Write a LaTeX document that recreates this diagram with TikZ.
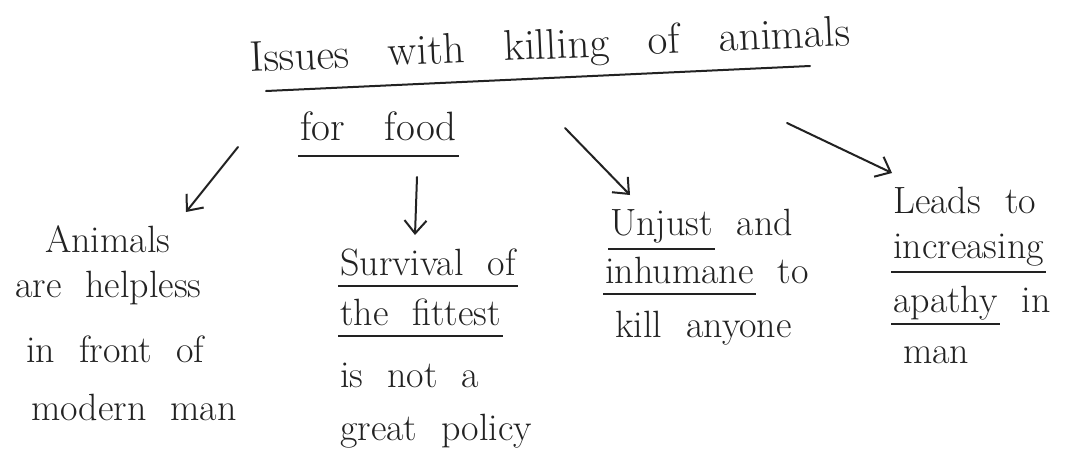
\documentclass[tikz,border=0pt]{standalone}
\usetikzlibrary{arrows.meta}
\definecolor{ink}{HTML}{222222}
\newsavebox\ulbox
\newcommand\hul[2][12pt]{\leavevmode\sbox\ulbox{#2}\rlap{\hspace*{-2pt}\rule[-#1]{\dimexpr\wd\ulbox+4pt\relax}{1.9pt}}\usebox\ulbox}
\newcommand\bodyfont{\fontsize{38}{45}\selectfont\spaceskip=24pt\relax}
\newcommand\headfont{\fontsize{43}{50}\selectfont\spaceskip=39pt\relax}
\newcommand\foodfont{\fontsize{41}{48}\selectfont\spaceskip=40pt\relax}
\begin{document}
\begin{tikzpicture}[x=1pt,y=-1pt,
  txt/.style={anchor=north west,inner sep=0pt,align=left,text=ink,font=\bodyfont},
  head/.style={anchor=base west,inner sep=0pt,text=ink,font=\headfont},
  pen/.style={draw=ink,line width=2pt,line cap=round,line join=round},
  arr/.style={pen,-{Straight Barb[length=13pt,width=22pt]}}]
\useasboundingbox[fill=white] (0,0) rectangle (1079,464);

% heading
\node[head,rotate=2.5] (title) at (250,72) {Issues with killing of animals};
\coordinate (ulA) at (266,91);
\coordinate (ulB) at (810,66);
\draw[pen] (ulA) -- (ulB);
\node[head,font=\foodfont] (food) at (300,140) {\hul[17pt]{for food}};

% branches
\node[txt] (animals) at (15,220.5) {\strut\hspace*{30pt}Animals\\are helpless\\[20pt]\hspace*{11pt}in front of\\[13pt]\hspace*{16pt}modern man};
\node[txt] (survival) at (340,243.5) {\strut\hul{Survival of}\\[5pt]\hul{the fittest}\\[17pt]is not a\\[8pt]great policy};
\node[txt] (unjust) at (605,203.5) {\strut\hspace*{5pt}\hul[15pt]{Unjust} and\\[3pt]\hul{inhumane} to\\[9pt]\hspace*{10pt}kill anyone};
\node[txt] (leads) at (893,181.5) {\strut Leads to\\\hul[15pt]{increasing}\\[9pt]\hul[13pt]{apathy} in\\[6pt]\hspace*{10pt}man};

% arrows
\coordinate (s1) at (238,147); \coordinate (e1) at (186,212);
\coordinate (s2) at (417,177); \coordinate (e2) at (415,235);
\coordinate (s3) at (565,128); \coordinate (e3) at (630,195);
\coordinate (s4) at (787,123); \coordinate (e4) at (892,173);
\draw[arr] (s1) -- (e1);
\draw[arr] (s2) -- (e2);
\draw[arr] (s3) -- (e3);
\draw[arr] (s4) -- (e4);
\end{tikzpicture}
\end{document}
